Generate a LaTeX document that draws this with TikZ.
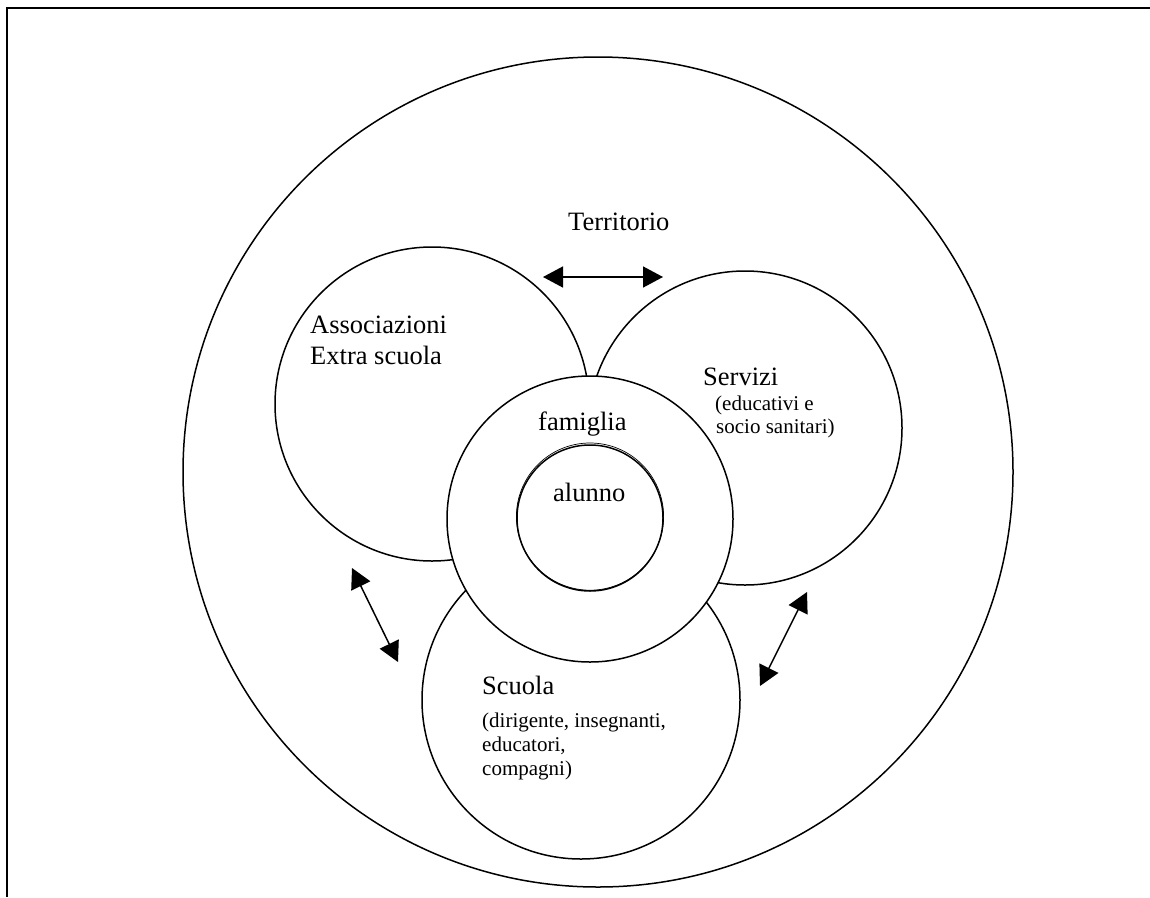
\documentclass[tikz,border=0pt]{standalone}
\usepackage{fontspec}
\setmainfont{Liberation Serif}
\usetikzlibrary{arrows.meta}
\begin{document}
\begin{tikzpicture}[x=1pt,y=-1pt,
  ring/.style={circle, draw, line width=1.5pt, fill=white, inner sep=0pt, minimum size=#1},
  big/.style={font=\fontsize{26.5}{30}\selectfont, inner sep=0pt, anchor=base west},
  small/.style={font=\fontsize{21}{24}\selectfont, inner sep=0pt, anchor=base west},
  link/.style={line width=1.5pt, {Triangle[length=20pt,width=21pt]}-{Triangle[length=20pt,width=21pt]}},
  frame/.style={line width=2.5pt, line join=miter}
]
\useasboundingbox (0,0) rectangle (1150,897);

% page frame: top and left rules
\draw[frame] (1150,8) -- (7,8) -- (7,897);

% circles, back to front
\node[ring=830pt] (territorio) at (598,472) {};
\node[ring=314pt] (assoc) at (432,404) {};
\node[ring=314pt] (servizi) at (745,428) {};
\node[ring=318pt] (scuola) at (581,700) {};
\node[ring=286pt] (famiglia) at (590,519) {};
\node[ring=146pt] (alunno) at (590,518) {};
\draw[line width=0.7pt] (590,516.6) circle [radius=73.6pt];

% labels
\node[big] (t-territorio) at (568,230) {Territorio};
\node[big] (t-assoc1) at (310,333) {Associazioni};
\node[big] (t-assoc2) at (310,364) {Extra scuola};
\node[big] (t-servizi) at (703,385) {Servizi};
\node[small] (t-servizi1) at (715,410) {(educativi e};
\node[small] (t-servizi2) at (716,433) {socio sanitari)};
\node[big] (t-famiglia) at (538,430) {famiglia};
\node[big] (t-alunno) at (553,501) {alunno};
\node[big] (t-scuola) at (482,694) {Scuola};
\node[small] (t-scuola1) at (482,727) {(dirigente, insegnanti,};
\node[small] (t-scuola2) at (482,751) {educatori,};
\node[small] (t-scuola3) at (482,775) {compagni)};

% two-way exchanges between the spheres
\coordinate (a1) at (543,277);
\coordinate (a2) at (663,277);
\coordinate (b1) at (352,568);
\coordinate (b2) at (398,662);
\coordinate (c1) at (807,592);
\coordinate (c2) at (760,686);
\draw[link] (a1) -- (a2);
\draw[link] (b1) -- (b2);
\draw[link] (c1) -- (c2);
\end{tikzpicture}
\end{document}
